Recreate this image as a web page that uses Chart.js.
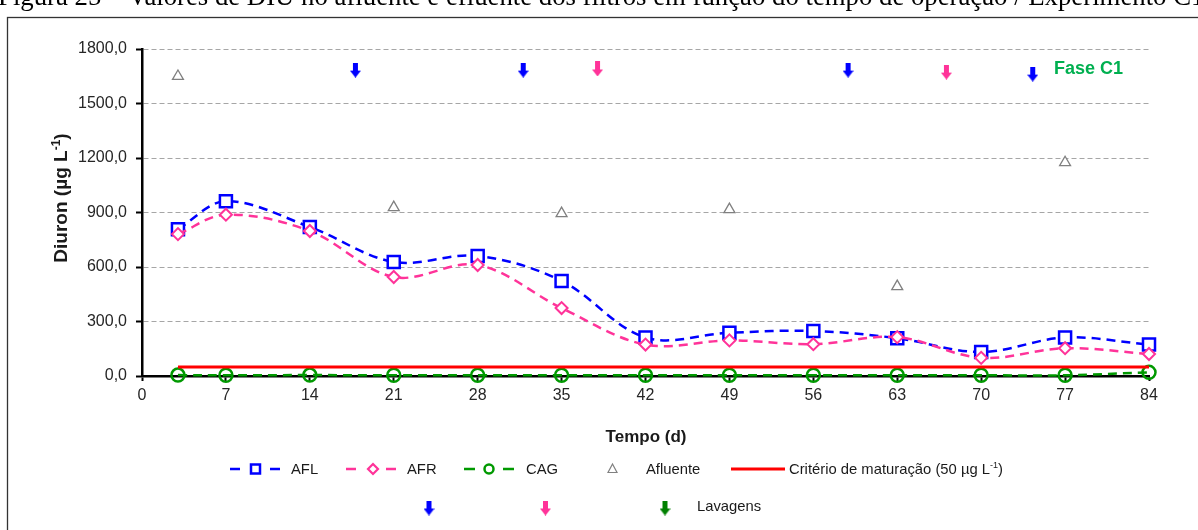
<!DOCTYPE html>
<html>
<head>
<meta charset="utf-8">
<script src="https://cdn.jsdelivr.net/npm/chart.js@4/dist/chart.umd.min.js"></script>
<style>
  html, body { margin: 0; padding: 0; background: #fff; overflow: hidden; }
  canvas { display: block; }
</style>
</head>
<body>
<canvas id="c" width="1198" height="530"></canvas>
<script>
// Sampling days (d) and Diuron concentrations (µg L-1)
const days      = [3, 7, 14, 21, 28, 35, 42, 49, 56, 63, 70, 77, 84];
const aflValues = [808, 962, 820, 628, 661, 523, 212, 238, 248, 208, 132, 212, 173];
const afrValues = [781, 888, 798, 545, 611, 374, 173, 196, 175, 214, 100, 153, 121];
const cagValues = [5, 4, 5, 4, 4, 4, 4, 4, 4, 4, 4, 4, 20];

// Influent samples
const afluenteDays   = [3, 21, 35, 49, 63, 77];
const afluenteValues = [1650, 928, 895, 917, 493, 1175];

// Maturation criterion (50 µg L-1)
const criterioDays   = [3, 84];
const criterioValues = [50, 50];

// Filter washings (arrows)
const lavAflDays   = [17.8, 31.8, 58.9, 74.3];
const lavAflLevels = [1684, 1684, 1684, 1662];
const lavAfrDays   = [38, 67.1];
const lavAfrLevels = [1690, 1673];

// Axis ticks
const xTicks = [0, 7, 14, 21, 28, 35, 42, 49, 56, 63, 70, 77, 84];
const yTicks = [0, 300, 600, 900, 1200, 1500, 1800];

const caption = 'Figura 25 – Valores de DIU no afluente e efluente dos filtros em função do tempo de operação / Experimento C1';

const SANS = '"Liberation Sans", Arial, sans-serif';
const BLUE = '#0000FF', PINK = '#FF3399', GREEN = '#009900', RED = '#FF0000', GRAY = '#808080';

const pts = (xs, ys) => xs.map((x, i) => ({ x, y: ys[i] }));

function makeArrow(color) {
  const c = document.createElement('canvas');
  c.width = 11; c.height = 15;
  const g = c.getContext('2d');
  g.fillStyle = color;
  g.beginPath();
  g.moveTo(3, 0); g.lineTo(8, 0); g.lineTo(8, 8); g.lineTo(11, 8);
  g.lineTo(5.5, 15); g.lineTo(0, 8); g.lineTo(3, 8);
  g.closePath(); g.fill();
  return c;
}
const arrowBlue = makeArrow(BLUE), arrowPink = makeArrow(PINK), arrowGreen = makeArrow('#008000');

// text with an optional superscript part
function drawRich(ctx, parts, x, y, align, size, weight) {
  const widths = parts.map(p => {
    ctx.font = `${weight} ${p.sup ? Math.round(size * 0.62) : size}px ${SANS}`;
    return ctx.measureText(p.t).width;
  });
  const total = widths.reduce((a, b) => a + b, 0);
  let cx = align === 'center' ? x - total / 2 : x;
  ctx.textAlign = 'left';
  ctx.textBaseline = 'middle';
  parts.forEach((p, i) => {
    ctx.font = `${weight} ${p.sup ? Math.round(size * 0.62) : size}px ${SANS}`;
    ctx.fillText(p.t, cx, p.sup ? y - size * 0.3 : y);
    cx += widths[i];
  });
}

const decor = {
  id: 'decor',
  beforeDraw(chart) {
    const ctx = chart.ctx;
    ctx.save();
    ctx.fillStyle = '#fff';
    ctx.fillRect(0, 0, chart.width, chart.height);
    // figure caption across the top
    ctx.fillStyle = '#000';
    ctx.font = '20px "Liberation Serif", "Times New Roman", serif';
    const fs = 20 * 1207 / ctx.measureText(caption).width;
    ctx.font = fs.toFixed(2) + 'px "Liberation Serif", "Times New Roman", serif';
    ctx.textAlign = 'left';
    ctx.textBaseline = 'alphabetic';
    ctx.fillText(caption, -2, 5);
    // frame
    ctx.strokeStyle = '#333';
    ctx.lineWidth = 1.3;
    ctx.strokeRect(7.5, 17.5, 1400, 700);
    ctx.restore();
  },
  afterDraw(chart) {
    const ctx = chart.ctx;
    ctx.save();
    ctx.fillStyle = '#1a1a1a';

    // y axis title
    ctx.save();
    ctx.translate(62, 198);
    ctx.rotate(-Math.PI / 2);
    drawRich(ctx, [{ t: 'Diuron (µg L' }, { t: '-1', sup: true }, { t: ')' }], 0, 0, 'center', 19, 'bold');
    ctx.restore();

    // x axis title
    drawRich(ctx, [{ t: 'Tempo (d)' }], 646, 437, 'center', 17, 'bold');

    // phase label
    ctx.fillStyle = '#00B050';
    drawRich(ctx, [{ t: 'Fase C1' }], 1054, 69, 'left', 18, 'bold');

    // legend, row 1
    const ry = 469;
    ctx.lineWidth = 2.5;
    const dashes = (color, x1, x2, x3, x4) => {
      ctx.strokeStyle = color;
      ctx.beginPath();
      ctx.moveTo(x1, ry); ctx.lineTo(x2, ry);
      ctx.moveTo(x3, ry); ctx.lineTo(x4, ry);
      ctx.stroke();
    };
    // AFL
    dashes(BLUE, 230, 240, 270, 280);
    ctx.fillStyle = '#fff'; ctx.strokeStyle = BLUE; ctx.lineWidth = 2.5;
    ctx.fillRect(251, ry - 4.5, 9, 9); ctx.strokeRect(251, ry - 4.5, 9, 9);
    // AFR
    dashes(PINK, 346, 356, 386, 396);
    ctx.strokeStyle = PINK; ctx.lineWidth = 2.2;
    ctx.beginPath();
    ctx.moveTo(373, ry - 5); ctx.lineTo(378, ry); ctx.lineTo(373, ry + 5); ctx.lineTo(368, ry);
    ctx.closePath(); ctx.fill(); ctx.stroke();
    // CAG
    ctx.lineWidth = 2.5;
    dashes(GREEN, 464, 475, 503, 514);
    ctx.strokeStyle = GREEN;
    ctx.beginPath(); ctx.arc(489, ry, 4.5, 0, Math.PI * 2); ctx.fill(); ctx.stroke();
    // Afluente
    ctx.strokeStyle = GRAY; ctx.lineWidth = 1.2;
    ctx.beginPath();
    ctx.moveTo(612.5, ry - 5); ctx.lineTo(617, ry + 3.5); ctx.lineTo(608, ry + 3.5);
    ctx.closePath(); ctx.stroke();
    // Critério
    ctx.strokeStyle = RED; ctx.lineWidth = 3;
    ctx.beginPath(); ctx.moveTo(731, ry); ctx.lineTo(785, ry); ctx.stroke();

    ctx.fillStyle = '#1a1a1a';
    const LF = 14.8;
    drawRich(ctx, [{ t: 'AFL' }], 291, ry + 1, 'left', LF, 'normal');
    drawRich(ctx, [{ t: 'AFR' }], 407, ry + 1, 'left', LF, 'normal');
    drawRich(ctx, [{ t: 'CAG' }], 526, ry + 1, 'left', LF, 'normal');
    drawRich(ctx, [{ t: 'Afluente' }], 646, ry + 1, 'left', LF, 'normal');
    drawRich(ctx, [{ t: 'Critério de maturação (50 µg L' }, { t: '-1', sup: true }, { t: ')' }], 789, ry + 1, 'left', LF, 'normal');

    // legend, row 2
    const r2 = 508;
    ctx.drawImage(arrowBlue, 429 - 5.5, r2 - 7.5);
    ctx.drawImage(arrowPink, 545.5 - 5.5, r2 - 7.5);
    ctx.drawImage(arrowGreen, 665 - 5.5, r2 - 7.5);
    drawRich(ctx, [{ t: 'Lavagens' }], 697, r2 - 1, 'left', LF, 'normal');

    ctx.restore();
  }
};

new Chart(document.getElementById('c'), {
  type: 'line',
  data: {
    datasets: [
      {
        label: 'AFL', data: pts(days, aflValues), order: 6,
        borderColor: BLUE, borderWidth: 2.5, borderDash: [9, 6], tension: 0.35,
        pointStyle: 'rect', pointRadius: 8.5, pointBorderWidth: 2.5,
        pointBorderColor: BLUE, pointBackgroundColor: '#fff', clip: false
      },
      {
        label: 'AFR', data: pts(days, afrValues), order: 5,
        borderColor: PINK, borderWidth: 2.5, borderDash: [9, 6], tension: 0.35,
        pointStyle: 'rectRot', pointRadius: 6, pointBorderWidth: 2,
        pointBorderColor: PINK, pointBackgroundColor: '#fff', clip: false
      },
      {
        label: 'CAG', data: pts(days, cagValues), order: 4,
        borderColor: GREEN, borderWidth: 2.5, borderDash: [9, 6], tension: 0.35,
        pointStyle: 'circle', pointRadius: 6.5, pointBorderWidth: 2.5,
        pointBorderColor: GREEN, pointBackgroundColor: 'rgba(255,255,255,0)', clip: false
      },
      {
        label: 'Afluente', data: pts(afluenteDays, afluenteValues), order: 3,
        showLine: false, pointStyle: 'triangle', pointRadius: 6.3, pointBorderWidth: 1.3,
        pointBorderColor: GRAY, pointBackgroundColor: '#fff', clip: false
      },
      {
        label: 'Critério de maturação (50 µg L-1)', data: pts(criterioDays, criterioValues), order: 2,
        borderColor: RED, borderWidth: 3, pointRadius: 0, clip: false
      },
      {
        label: 'Lavagens AFL', data: pts(lavAflDays, lavAflLevels), order: 1,
        showLine: false, pointStyle: arrowBlue, pointRadius: 7, clip: false
      },
      {
        label: 'Lavagens AFR', data: pts(lavAfrDays, lavAfrLevels), order: 1,
        showLine: false, pointStyle: arrowPink, pointRadius: 7, clip: false
      }
    ]
  },
  options: {
    responsive: false,
    animation: false,
    devicePixelRatio: 1,
    events: [],
    layout: { padding: { left: 0, right: 49, top: 49, bottom: 0 } },
    plugins: { legend: { display: false }, tooltip: { enabled: false } },
    scales: {
      x: {
        type: 'linear', min: 0, max: 84,
        afterFit: s => { s.height = 154; },
        afterBuildTicks: s => { s.ticks = xTicks.map(v => ({ value: v })); },
        grid: { drawOnChartArea: false, drawTicks: true, tickLength: 5, tickColor: '#000', tickWidth: 2 },
        border: { display: true, color: '#000', width: 2.5 },
        ticks: { color: '#262626', font: { family: SANS, size: 16 }, padding: 5, maxRotation: 0, callback: v => String(v) }
      },
      y: {
        type: 'linear', min: 0, max: 1800,
        afterFit: s => { s.width = 142; },
        afterBuildTicks: s => { s.ticks = yTicks.map(v => ({ value: v })); },
        grid: { color: '#A6A6A6', lineWidth: 1, drawTicks: true, tickLength: 6, tickColor: '#000', tickWidth: 2, tickBorderDash: [] },
        border: { display: true, color: '#000', width: 2.5, dash: [5, 3] },
        ticks: { color: '#262626', font: { family: SANS, size: 16 }, padding: 9, callback: v => v.toFixed(1).replace('.', ',') }
      }
    }
  },
  plugins: [decor]
});
</script>
</body>
</html>
